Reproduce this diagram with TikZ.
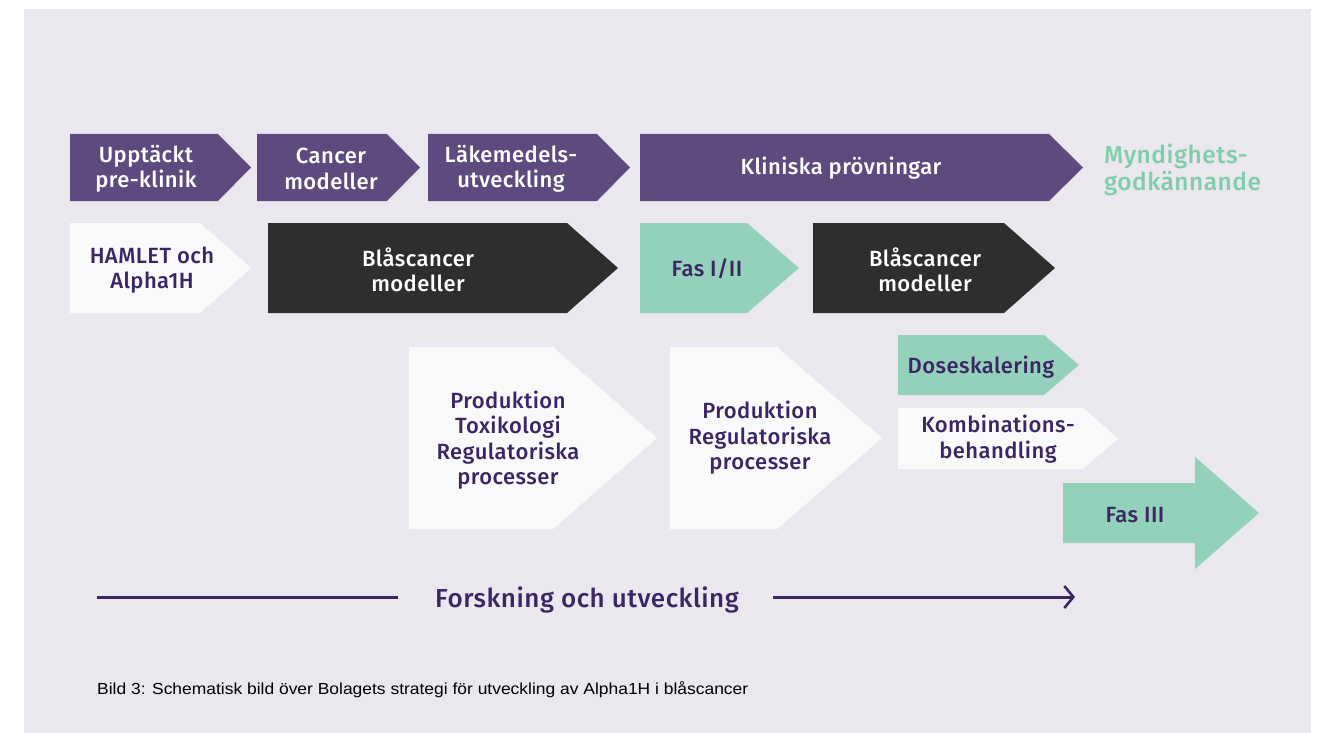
\documentclass[tikz,border=0pt]{standalone}
\usepackage{fontspec}
\setmainfont{Fira Sans}
\newfontfamily\boxfont[LetterSpace=2]{Fira Sans Medium}
\newfontfamily\capfont{Liberation Sans}
\usetikzlibrary{arrows.meta}
\definecolor{bg}{HTML}{EAE8EE}
\definecolor{purp}{HTML}{5F4A80}
\definecolor{darkbox}{HTML}{2E2E2E}
\definecolor{teal}{HTML}{93D1BA}
\definecolor{whitebox}{HTML}{F9F9FA}
\definecolor{txtpurp}{HTML}{3B2565}
\definecolor{tealtxt}{HTML}{7FCDAA}
\newcommand\chevshape[6]{\fill[#6] (#1,#4) -- (#2,#4) -- (#3,{(#4+#5)/2}) -- (#2,#5) -- (#1,#5) -- cycle;}
\begin{document}
\begin{tikzpicture}[x=1pt,y=-1pt,
  lbl/.style={font=\boxfont\fontsize{22}{25.5}\selectfont, align=center, inner sep=0pt},
  onlight/.style={lbl, text=txtpurp},
  ondark/.style={lbl, text=white}]
\useasboundingbox (0,0) rectangle (1322,733);
\fill[white] (0,0) rectangle (1322,733);
\fill[bg] (24,9) rectangle (1311,733);
% row 1
\chevshape{70}{218}{251}{134}{201}{purp}
\chevshape{257}{387}{420}{134}{201}{purp}
\chevshape{428}{597}{630}{134}{201}{purp}
\chevshape{640}{1049}{1083}{134}{201}{purp}
\node[ondark] (upp) at (146,169) {Upptäckt\\pre-klinik};
\node[ondark] (can) at (331,169) {Cancer\\modeller};
\node[ondark] (lak) at (511,169) {Läkemedels-\\utveckling};
\node[ondark] (kli) at (841,168) {Kliniska prövningar};
\node[lbl, text=tealtxt, anchor=west, align=left, font=\boxfont\fontsize{24.5}{26.5}\selectfont] (myn) at (1104,170) {Myndighets-\\godkännande};
% row 2
\chevshape{70}{200}{251}{223}{313}{whitebox}
\chevshape{268}{567}{618}{223}{313}{darkbox}
\chevshape{640}{747}{799}{223}{313}{teal}
\chevshape{813}{1004}{1055}{223}{313}{darkbox}
\node[onlight] (ham) at (152,270) {HAMLET och\\Alpha1H};
\node[ondark] (bla1) at (418,270) {Blåscancer\\modeller};
\node[onlight] (fas12) at (707,269) {Fas I/II};
\node[ondark] (bla2) at (925,270) {Blåscancer\\modeller};
% row 3
\chevshape{409}{553}{657}{347}{529}{whitebox}
\chevshape{670}{777}{882}{347}{529}{whitebox}
\chevshape{898}{1044}{1079}{335}{395}{teal}
\chevshape{898}{1083}{1118}{408}{469}{whitebox}
\fill[teal] (1063,483) -- (1195,483) -- (1195,457) -- (1259,513) -- (1195,569) -- (1195,543) -- (1063,543) -- cycle;
\node[onlight] (prod1) at (508,440) {Produktion\\Toxikologi\\Regulatoriska\\processer};
\node[onlight] (prod2) at (760,438) {Produktion\\Regulatoriska\\processer};
\node[onlight] (dose) at (981,367) {Doseskalering};
\node[onlight] (komb) at (998,439) {Kombinations-\\behandling};
\node[onlight] (fas3) at (1135,515) {Fas III};
% bottom arrow
\node[lbl, text=txtpurp, font=\boxfont\fontsize{26}{28}\selectfont] (fou) at (587,600) {Forskning och utveckling};
\coordinate (ls) at (97,597);
\coordinate (le) at (398,597);
\coordinate (rs) at (773,597);
\coordinate (re) at (1075,597);
\draw[txtpurp, line width=3pt] (ls) -- (le);
\draw[txtpurp, line width=3pt, -{Straight Barb[length=9pt,width=22pt,line width=2.6pt]}] (rs) -- (re);
% caption
\node[font=\capfont\fontsize{16}{18}\selectfont, text=black, anchor=base west, inner sep=0pt] (cap) at (97,694) {\scalebox{1.09}[1]{Bild 3: Schematisk bild över Bolagets strategi för utveckling av Alpha1H i blåscancer}};
\end{tikzpicture}
\end{document}
